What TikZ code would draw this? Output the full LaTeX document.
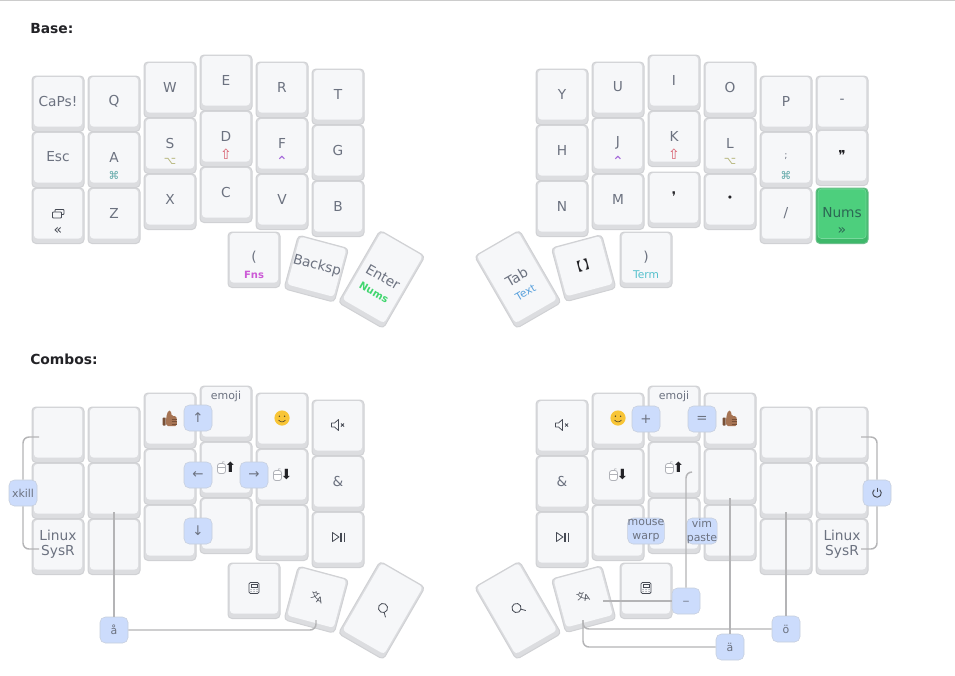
\documentclass[tikz,border=0pt]{standalone}
\usepackage{fontspec}
\setmainfont{DejaVu Sans}
\newfontfamily\cjkfont{Noto Sans CJK SC}
\definecolor{keyFace}{RGB}{246, 247, 249}
\definecolor{keyBase}{RGB}{220, 221, 224}
\definecolor{keyEdge}{RGB}{208, 209, 212}
\definecolor{keyText}{RGB}{108, 114, 128}
\definecolor{numsFace}{RGB}{77, 207, 125}
\definecolor{numsBase}{RGB}{62, 184, 106}
\definecolor{numsText}{RGB}{44, 104, 84}
\definecolor{pillFill}{RGB}{204, 220, 252}
\definecolor{pillEdge}{RGB}{198, 206, 220}
\definecolor{legGray}{RGB}{180, 180, 182}
\definecolor{ruleGray}{RGB}{204, 204, 204}
\definecolor{inkDark}{RGB}{34, 34, 38}
\definecolor{iconGray}{RGB}{70, 74, 84}
\definecolor{modCmd}{RGB}{96, 168, 168}
\definecolor{modAlt}{RGB}{180, 180, 120}
\definecolor{modShift}{RGB}{216, 92, 108}
\definecolor{modCtrl}{RGB}{160, 96, 216}
\definecolor{layerFns}{RGB}{204, 90, 214}
\definecolor{layerNums}{RGB}{64, 214, 110}
\definecolor{layerText}{RGB}{88, 160, 220}
\definecolor{layerTerm}{RGB}{84, 192, 204}
\definecolor{thumbBrown}{RGB}{166, 116, 84}
\definecolor{thumbDark}{RGB}{120, 80, 56}
\definecolor{smileYellow}{RGB}{248, 197, 55}
\definecolor{mouseGray}{RGB}{176, 178, 184}

% name, x, y, angle, extra height, label, sublabel
\newcommand{\keycapat}[7]{%
  \begin{scope}[shift={(#2,#3)},rotate=#4]
    \filldraw[keybase] (-26,-25-#5/2) rectangle (26,30.5+#5/2);
    \fill[keyface] (-24,-24-#5/2) rectangle (24,25.5+#5/2);
    \node[keylabel] (#1) at (0,0) {#6};
    \if\relax\detokenize{#7}\relax\else
      \node[keysub] (#1sub) at (0,18) {#7};
    \fi
  \end{scope}}
\newcommand{\keycap}[5]{\keycapat{#1}{#2}{#3}{0}{0}{#4}{#5}}
\newcommand{\bigsub}[2]{{\color{#1}\fontsize{10.5pt}{11pt}\selectfont #2}}
\newcommand{\layerbold}[2]{{\color{#1}\fontsize{7.5pt}{9pt}\selectfont\bfseries #2}}
\newcommand{\layerthin}[2]{{\color{#1}\fontsize{8pt}{9pt}\selectfont #2}}
\newcommand{\transglyph}{{\color{iconGray}\fontsize{6.5pt}{7pt}\selectfont\raisebox{1.2pt}{\cjkfont 文}\hspace{-1.5pt}\raisebox{-1.2pt}{A}}}
\tikzset{
  pics/windowIcon/.style={code={
    \draw[iconGray, line width=0.7pt, rounded corners=0.5pt] (-3,-3.5) rectangle (6,1.5);
    \filldraw[iconGray, fill=keyFace, line width=0.7pt, rounded corners=0.5pt] (-5.5,-1) rectangle (3.5,5);
  }},
  pics/calcIcon/.style={code={
    \draw[iconGray, line width=0.6pt, rounded corners=1pt] (-5,-5.5) rectangle (5,5.5);
    \draw[iconGray, line width=0.5pt] (-3,-3.5) rectangle (3,-0.5);
    \foreach \dotx in {-3,0,3} \foreach \doty in {1.5,3.5}
      \fill[iconGray] (\dotx,\doty) circle (0.5);
  }},
  pics/muteIcon/.style={code={
    \draw[iconGray, line width=0.55pt, line join=round] (-6.5,-2) -- (-3.5,-2) -- (0.5,-5.5) -- (0.5,5.5) -- (-3.5,2) -- (-6.5,2) -- cycle;
    \draw[iconGray, line width=0.55pt] (3,-1.5) -- (6,1.5) (3,1.5) -- (6,-1.5);
  }},
  pics/playIcon/.style={code={
    \draw[iconGray, line width=0.6pt, line join=round] (-5.5,-4.5) -- (1,0) -- (-5.5,4.5) -- cycle;
    \draw[iconGray, line width=0.8pt] (3,-4.5) -- (3,4.5) (6.5,-4.5) -- (6.5,4.5);
  }},
  pics/findIcon/.style={code={
    \draw[iconGray, line width=0.6pt] (0,0) circle (4.6);
    \draw[iconGray, line width=0.6pt] (3.3,3.3) -- (6.8,6.8);
  }},
  pics/powerIcon/.style={code={
    \draw[iconGray, line width=0.7pt] (2.76,-3.29) arc[start angle=50, end angle=-230, radius=3.2pt];
    \draw[iconGray, line width=0.7pt] (0,-5.5) -- (0,-1);
  }},
  pics/mouseIcon/.style={code={
    \draw[mouseGray, line width=0.4pt] (0.5,-3.5) .. controls (0.5,-5.5) and (2,-6) .. (3,-5);
    \filldraw[mouseGray, fill=white, line width=0.6pt, rounded corners=1.8pt] (-4,-3.5) rectangle (4,6.5);
    \draw[mouseGray, line width=0.4pt] (-4,0) -- (4,0);
  }},
  pics/thumbIcon/.style={code={
    \fill[thumbDark, rounded corners=0.5pt] (-7.3,-0.5) rectangle (-4.3,7.5);
    \fill[thumbBrown, rounded corners=1.2pt] (-3.8,-1) -- (-1.8,-7.5) -- (1,-7.5) -- (1.5,-2) -- (6.5,-2) -- (7,8) -- (-3.8,8) -- cycle;
    \draw[thumbDark, line width=0.4pt] (1.5,1) -- (7,1) (1.5,3.5) -- (7,3.5) (1.5,6) -- (7,6);
  }},
  pics/smileIcon/.style={code={
    \fill[smileYellow] (0,0) circle (7.6);
    \fill[inkDark!80!smileYellow] (-2.6,-1.8) circle (0.8) (2.6,-1.8) circle (0.8);
    \draw[inkDark!80!smileYellow, line width=0.45pt] (-3.5,2) .. controls (-1.5,4.5) and (1.5,4.5) .. (3.5,2);
  }}
}

\begin{document}
\begin{tikzpicture}[
    x=0.75pt, y=-0.75pt,
    every node/.style={font=\fontsize{10.3pt}{12pt}\selectfont},
    keybase/.style={draw=keyEdge, fill=keyBase, line width=0.75pt, rounded corners=3pt},
    keyface/.style={fill=keyFace, rounded corners=2.5pt},
    keylabel/.style={transform shape, align=center, inner sep=0pt, text=keyText},
    keysub/.style={transform shape, inner sep=0pt, font=\fontsize{8pt}{9pt}\selectfont},
    title/.style={anchor=west, inner sep=0pt, text=inkDark, font=\fontsize{10.4pt}{12pt}\selectfont\bfseries},
    pill/.style={rectangle, draw=pillEdge, fill=pillFill, rounded corners=4pt, minimum width=21pt, minimum height=19.5pt, inner sep=0pt, align=center, text=keyText, font=\fontsize{8.2pt}{10.5pt}\selectfont},
    pillbig/.style={pill, font=\fontsize{10pt}{12pt}\selectfont},
    smalltop/.style={keylabel, font=\fontsize{8.2pt}{10pt}\selectfont},
    heavyarrow/.style={inner sep=0pt, text=inkDark, font=\fontsize{10.5pt}{11pt}\selectfont},
    leg/.style={draw=legGray, line width=1.1pt, rounded corners=4.5pt}
  ]
  \useasboundingbox (0,0) rectangle (955,675);
  \coordinate (ruleL) at (0,0.5);
  \coordinate (ruleR) at (955,0.5);
  \draw[ruleGray, line width=0.75pt] (ruleL) -- (ruleR);

  \node[title] (baseTitle) at (30,28.5) {Base:};
  \node[title] (comboTitle) at (30,359.5) {Combos:};

  % base, left hand
  \keycap{kCaps}{58}{101}{CaPs!}{}
  \keycap{kEsc}{58}{157}{Esc}{}
  \keycap{kWin}{58}{213}{}{\bigsub{iconGray}{«}}
  \pic at (kWin) {windowIcon};
  \keycap{kQ}{114}{101}{Q}{}
  \keycap{kA}{114}{157}{A}{\color{modCmd}⌘}
  \keycap{kZ}{114}{213}{Z}{}
  \keycap{kW}{170}{87}{W}{}
  \keycap{kS}{170}{143}{S}{\color{modAlt}⌥}
  \keycap{kX}{170}{199}{X}{}
  \keycap{kE}{226}{80}{E}{}
  \keycap{kD}{226}{136}{D}{\bigsub{modShift}{⇧}}
  \keycap{kC}{226}{192}{C}{}
  \keycap{kR}{282}{87}{R}{}
  \keycap{kF}{282}{143}{F}{\bigsub{modCtrl}{⌃}}
  \keycap{kV}{282}{199}{V}{}
  \keycap{kT}{338}{94}{T}{}
  \keycap{kG}{338}{150}{G}{}
  \keycap{kB}{338}{206}{B}{}
  \keycap{kParenL}{254}{257}{(}{\layerbold{layerFns}{Fns}}
  \keycapat{kBacksp}{317}{266}{-15}{0}{Backsp}{}
  \keycapat{kEnter}{383}{277}{-30}{28}{Enter}{\layerbold{layerNums}{Nums}}

  % base, right hand
  \keycap{kY}{562}{94}{Y}{}
  \keycap{kH}{562}{150}{H}{}
  \keycap{kN}{562}{206}{N}{}
  \keycap{kU}{618}{87}{U}{}
  \keycap{kJ}{618}{143}{J}{\bigsub{modCtrl}{⌃}}
  \keycap{kM}{618}{199}{M}{}
  \keycap{kI}{674}{80}{I}{}
  \keycap{kK}{674}{136}{K}{\bigsub{modShift}{⇧}}
  \keycap{kComma}{674}{197}{\color{inkDark}\fontsize{10pt}{10pt}\selectfont ❜}{}
  \keycap{kO}{730}{87}{O}{}
  \keycap{kL}{730}{143}{L}{\color{modAlt}⌥}
  \keycap{kDot}{730}{199}{\color{inkDark}\fontsize{8pt}{8pt}\selectfont •}{}
  \keycap{kP}{786}{101}{P}{}
  \keycap{kSemi}{786}{157}{\fontsize{7pt}{7pt}\selectfont ;}{\color{modCmd}⌘}
  \keycap{kSlash}{786}{213}{/}{}
  \keycap{kMinus}{842}{101}{-}{}
  \keycap{kQuote}{842}{155}{\color{inkDark}❞}{}
  \filldraw[keybase, draw=numsBase!70!keyEdge, fill=numsBase] (816,188) rectangle (868,243.5);
  \filldraw[keyface, draw=numsFace!75!keyFace, fill=numsFace, line width=0.4pt] (818,189) rectangle (866,238.5);
  \node[keylabel, text=numsText] (kNums) at (842,213) {Nums};
  \node[keysub, text=numsText] (kNumssub) at (842,231) {\bigsub{numsText}{»}};
  \keycapat{kTab}{516.5}{277}{30}{28}{Tab}{\layerthin{layerText}{Text}}
  \keycapat{kBrackets}{583}{265.5}{15}{0}{\color{inkDark}\cjkfont\fontsize{9pt}{10pt}\selectfont 【\hspace{1.5pt}】}{}
  \keycap{kParenR}{646}{257}{)}{\layerthin{layerTerm}{Term}}

  % combos, left hand
  \keycap{cTL}{58}{432}{}{}
  \keycap{cML}{58}{488}{}{}
  \keycap{cBL}{58}{544}{Linux\\[-1pt]SysR}{}
  \keycap{cTQ}{114}{432}{}{}
  \keycap{cAring}{114}{488}{}{}
  \keycap{cBQ}{114}{544}{}{}
  \keycap{cThumbL}{170}{418}{}{}
  \pic at (cThumbL) {thumbIcon};
  \keycap{cMS}{170}{474}{}{}
  \keycap{cBS}{170}{530}{}{}
  \keycap{cEmojiL}{226}{411}{}{}
  \keycap{cWheelUpL}{226}{467}{}{}
  \pic at ([xshift=-3.4pt]cWheelUpL) {mouseIcon};
  \node[heavyarrow] (cUpArrowL) at (230.5,467.5) {⬆};
  \keycap{cBD}{226}{523}{}{}
  \keycap{cSmileL}{282}{418}{}{}
  \pic at (cSmileL) {smileIcon};
  \keycap{cWheelDnL}{282}{474}{}{}
  \pic at ([xshift=-3.4pt]cWheelDnL) {mouseIcon};
  \node[heavyarrow] (cDnArrowL) at (286.5,474.5) {⬇};
  \keycap{cBF}{282}{530}{}{}
  \keycap{cMuteL}{338}{425}{}{}
  \pic at (cMuteL) {muteIcon};
  \keycap{cAmpL}{338}{481}{\&}{}
  \keycap{cPlayL}{338}{537}{}{}
  \pic at (cPlayL) {playIcon};
  \keycap{cCalcL}{254}{588}{}{}
  \pic at (cCalcL) {calcIcon};
  \keycapat{cTransL}{317}{597}{-15}{0}{\transglyph}{}
  \keycapat{cFindL}{383}{608}{-30}{28}{}{}
  \pic[rotate=-30] at (cFindL) {findIcon};
  \node[smalltop] (cEmojiLabelL) at (226,396) {emoji};

  % combos, right hand
  \keycap{cMuteR}{562}{425}{}{}
  \pic at (cMuteR) {muteIcon};
  \keycap{cAmpR}{562}{481}{\&}{}
  \keycap{cPlayR}{562}{537}{}{}
  \pic at (cPlayR) {playIcon};
  \keycap{cSmileR}{618}{418}{}{}
  \pic at (cSmileR) {smileIcon};
  \keycap{cWheelDnR}{618}{474}{}{}
  \pic at ([xshift=-3.4pt]cWheelDnR) {mouseIcon};
  \node[heavyarrow] (cDnArrowR) at (622.5,474.5) {⬇};
  \keycap{cBJ}{618}{530}{}{}
  \keycap{cEmojiR}{674}{411}{}{}
  \keycap{cWheelUpR}{674}{467}{}{}
  \pic at ([xshift=-3.4pt]cWheelUpR) {mouseIcon};
  \node[heavyarrow] (cUpArrowR) at (678.5,467.5) {⬆};
  \keycap{cBK}{674}{523}{}{}
  \keycap{cThumbR}{730}{418}{}{}
  \pic at (cThumbR) {thumbIcon};
  \keycap{cMidL}{730}{474}{}{}
  \keycap{cBotL}{730}{530}{}{}
  \keycap{cTP}{786}{432}{}{}
  \keycap{cMP}{786}{488}{}{}
  \keycap{cBP}{786}{544}{}{}
  \keycap{cTR}{842}{432}{}{}
  \keycap{cMR}{842}{488}{}{}
  \keycap{cBR}{842}{544}{Linux\\[-1pt]SysR}{}
  \keycapat{cFindR}{516.5}{608}{30}{28}{}{}
  \pic[rotate=30] at (cFindR) {findIcon};
  \keycapat{cTransR}{583}{596.5}{15}{0}{\transglyph}{}
  \keycap{cCalcR}{646}{588}{}{}
  \pic at (cCalcR) {calcIcon};
  \node[smalltop] (cEmojiLabelR) at (674,396) {emoji};

  % pills, then the legs that end at their borders
  \node[pill] (xkill) at (23,493) {xkill};
  \node[pill] (aring) at (114,630) {å};
  \node[pillbig] (upArrow) at (198,418) {↑};
  \node[pillbig] (leftArrow) at (198,475) {←};
  \node[pillbig] (downArrow) at (198,531) {↓};
  \node[pillbig] (rightArrow) at (254,475) {→};
  \node[pillbig] (plusPill) at (646,419) {+};
  \node[pillbig] (equalPill) at (702,419) {=};
  \node[pill] (mouseWarp) at (646,531) {mouse\\warp};
  \node[pill] (vimPaste) at (702,531) {vim\\paste};
  \node[pill] (underscore) at (686,601) {\_};
  \node[pill] (adiaer) at (730,647) {ä};
  \node[pill] (odiaer) at (786,629) {ö};
  \node[pill] (power) at (877,493) {};
  \pic at (power) {powerIcon};

  \coordinate (xkillTop) at (39,437);
  \coordinate (xkillBot) at (39,549);
  \coordinate (aringUp) at (114,512);
  \coordinate (aringThumb) at (316,620);
  \coordinate (underUp) at (692,472);
  \coordinate (underThumb) at (603,601);
  \coordinate (adiaerUp) at (730,498);
  \coordinate (thumbLeg) at (583,620);
  \coordinate (odiaerUp) at (786,512);
  \coordinate (powerTop) at (861,437);
  \coordinate (powerBot) at (861,549);

  \draw[leg] (xkillTop) -| (xkill);
  \draw[leg] (xkillBot) -| (xkill);
  \draw[leg] (aringUp) -- (aring);
  \draw[leg] (aringThumb) |- (aring);
  \draw[leg] (underUp) -| (underscore);
  \draw[leg] (underThumb) -- (underscore);
  \draw[leg] (adiaerUp) -- (adiaer);
  \draw[leg] (thumbLeg) |- (adiaer);
  \draw[leg] (odiaerUp) -- (odiaer);
  \draw[leg] (thumbLeg) |- (odiaer);
  \draw[leg] (powerTop) -| (power);
  \draw[leg] (powerBot) -| (power);
\end{tikzpicture}
\end{document}
